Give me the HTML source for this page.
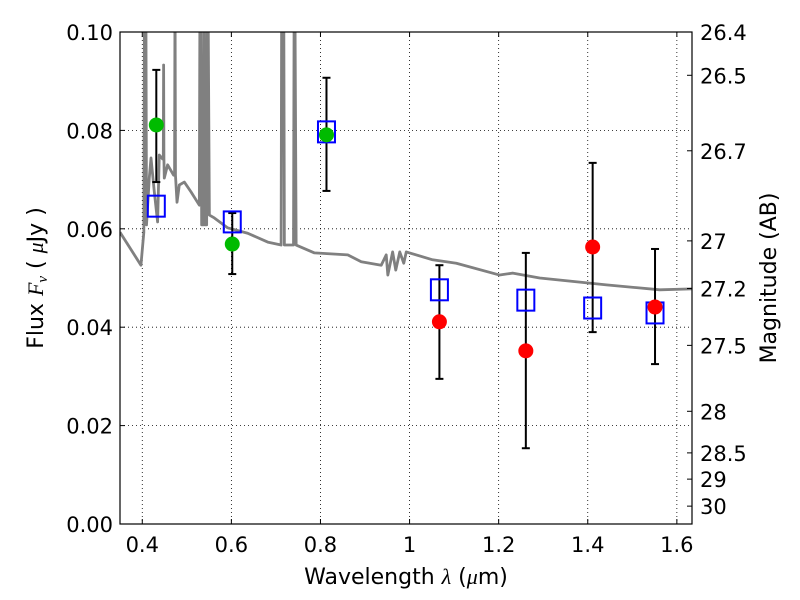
<!DOCTYPE html>
<html><head><meta charset="utf-8"><style>
html,body{margin:0;padding:0;background:#fff;width:800px;height:600px;overflow:hidden}
svg text{font-family:"DejaVu Sans","Liberation Sans",sans-serif;fill:#000}
</style></head><body>
<svg id="c" width="800" height="600"></svg>
<script>
const specLam=[0.35,0.397,0.4035,0.405,0.408,0.4095,0.4157,0.4196,0.427,0.4344,0.4382,0.4456,0.4472,0.4479,0.4486,0.4494,0.4569,0.4703,0.4725,0.4735,0.4745,0.478,0.4831,0.4944,0.5094,0.5281,0.5295,0.5305,0.5318,0.5333,0.5375,0.539,0.5405,0.5445,0.546,0.5475,0.5506,0.5618,0.5917,0.6366,0.6816,0.7117,0.713,0.7175,0.719,0.7395,0.741,0.7425,0.7454,0.7865,0.8613,0.8915,0.9364,0.9476,0.9512,0.962,0.969,0.978,0.987,0.9926,1.0517,1.105,1.2022,1.2315,1.2921,1.442,1.5618,1.636];
const specFlux=[0.0593,0.0526,0.0593,0.11,0.11,0.0608,0.0703,0.0744,0.0675,0.0614,0.075,0.0742,0.0742,0.0933,0.0742,0.0703,0.073,0.0709,0.0709,0.11,0.0709,0.0654,0.0689,0.0695,0.0675,0.0648,0.11,0.11,0.11,0.0608,0.0608,0.11,0.0608,0.0608,0.11,0.11,0.0628,0.0622,0.0602,0.0591,0.0573,0.0567,0.11,0.11,0.0567,0.0567,0.11,0.11,0.0567,0.0551,0.0547,0.0533,0.0526,0.0547,0.0506,0.0553,0.0516,0.0553,0.053,0.0553,0.0537,0.053,0.0506,0.051,0.05,0.0486,0.0476,0.0478];
const greenLam=[0.4315,0.602,0.8135];
const greenFlux=[0.0811,0.0569,0.0791];
const greenHi=[0.0923,0.0632,0.0907];
const greenLo=[0.0695,0.0508,0.0677];
const redLam=[1.067,1.261,1.411,1.551];
const redFlux=[0.0411,0.0352,0.0563,0.0441];
const redHi=[0.0526,0.0551,0.0734,0.0559];
const redLo=[0.0295,0.0154,0.039,0.0325];
const modelLam=[0.4315,0.602,0.8135,1.067,1.261,1.411,1.551];
const modelFlux=[0.0646,0.0614,0.0797,0.0476,0.0455,0.0439,0.0429];
const xTicks=[0.4,0.6,0.8,1.0,1.2,1.4,1.6];
const xTickLabels=["0.4","0.6","0.8","1","1.2","1.4","1.6"];
const yTicks=[0,0.02,0.04,0.06,0.08,0.10];
const yTickLabels=["0.00","0.02","0.04","0.06","0.08","0.10"];
const magTicks=[26.4,26.5,26.7,27,27.2,27.5,28,28.5,29,30];
const magLabels=["26.4","26.5","26.7","27","27.2","27.5","28","28.5","29","30"];

const L=120,R=692,T=32,B=524;
const X0=0.35,X1=1.634;
const sx=v=>L+(v-X0)/(X1-X0)*(R-L);
const sy=v=>B-v/0.1*(B-T);
const NS="http://www.w3.org/2000/svg";
const svg=document.getElementById('c');
function mk(t,a,p){const e=document.createElementNS(NS,t);for(const k in a)e.setAttribute(k,a[k]);(p||svg).appendChild(e);return e;}
const defs=mk('defs',{});const cp=mk('clipPath',{id:'clip'},defs);mk('rect',{x:L,y:T,width:R-L,height:B-T},cp);

const grid=mk('g',{});


xTicks.forEach(v=>mk('line',{x1:sx(v),x2:sx(v),y1:T,y2:B,stroke:'#000','stroke-width':0.8,'stroke-dasharray':'1,3'},grid));
yTicks.forEach(v=>mk('line',{x1:L,x2:R,y1:sy(v),y2:sy(v),stroke:'#000','stroke-width':0.8,'stroke-dasharray':'1,3'},grid));

const sp=mk('polyline',{points:specLam.map((l,i)=>sx(l)+','+sy(specFlux[i])).join(' '),fill:'none',stroke:'#808080','stroke-width':2.8,'clip-path':'url(#clip)','stroke-linejoin':'round'});



function errs(lam,hi,lo,name){lam.forEach((l,i)=>{const g=mk('g',{stroke:'#000','stroke-width':2});


const x=sx(l);mk('line',{x1:x,x2:x,y1:sy(hi[i]),y2:sy(lo[i])},g);
mk('line',{x1:x-4,x2:x+4,y1:sy(hi[i]),y2:sy(hi[i])},g);mk('line',{x1:x-4,x2:x+4,y1:sy(lo[i]),y2:sy(lo[i])},g);});}
errs(greenLam,greenHi,greenLo,'green');errs(redLam,redHi,redLo,'red');
modelLam.forEach((l,i)=>{const r=mk('rect',{x:sx(l)-8.5,y:sy(modelFlux[i])-10.5,width:17,height:21,fill:'none',stroke:'#0000ff','stroke-width':2});

});
greenLam.forEach((l,i)=>{const c=mk('circle',{cx:sx(l),cy:sy(greenFlux[i]),r:7.5,fill:'#00bb00'});

});
redLam.forEach((l,i)=>{const c=mk('circle',{cx:sx(l),cy:sy(redFlux[i]),r:7.5,fill:'#ff0000'});

});

const fr=mk('rect',{x:L,y:T,width:R-L,height:B-T,fill:'none',stroke:'#000','stroke-width':1.2});



xTicks.forEach((v,i)=>{const x=sx(v);mk('line',{x1:x,x2:x,y1:B,y2:B-5,stroke:'#000'});mk('line',{x1:x,x2:x,y1:T,y2:T+5,stroke:'#000'});
const t=mk('text',{x:x,y:B+28,'text-anchor':'middle','font-size':21});t.textContent=xTickLabels[i];

});
yTicks.forEach((v,i)=>{const y=sy(v);mk('line',{x1:L,x2:L+5,y1:y,y2:y,stroke:'#000'});
const t=mk('text',{x:L-7,y:y+8,'text-anchor':'end','font-size':21});t.textContent=yTickLabels[i];

});
magTicks.forEach((m,i)=>{const f=Math.pow(10,(23.9-m)/2.5);const y=sy(f);mk('line',{x1:R,x2:R-5,y1:y,y2:y,stroke:'#000'});
const t=mk('text',{x:R+8,y:y+8,'font-size':21});t.textContent=magLabels[i];

});

const xl=mk('text',{x:406,y:584,'text-anchor':'middle','font-size':22});xl.innerHTML='Wavelength  <tspan font-family="Liberation Serif" font-style="italic">λ</tspan> (<tspan font-family="Liberation Serif" font-style="italic">μ</tspan>m)';


const yl=mk('text',{x:0,y:0,'text-anchor':'middle','font-size':22,transform:'translate(43,278) rotate(-90)'});yl.innerHTML='Flux  <tspan font-family="Liberation Serif" font-style="italic">F<tspan font-size="15" dy="4">ν</tspan></tspan><tspan dy="-4">   (  </tspan><tspan font-family="Liberation Serif" font-style="italic">μ</tspan>Jy )';


const rl=mk('text',{x:0,y:0,'text-anchor':'middle','font-size':22,transform:'translate(776,278) rotate(-90)'});rl.textContent='Magnitude (AB)';


</script>
</body></html>
